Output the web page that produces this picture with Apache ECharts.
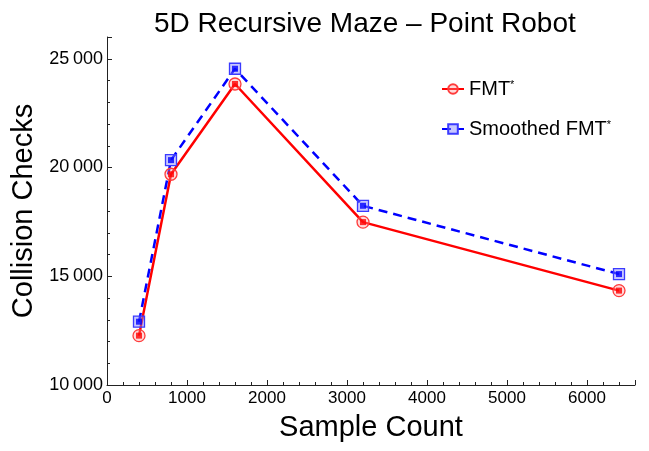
<!DOCTYPE html>
<html><head><meta charset="utf-8">
<script src="https://cdn.jsdelivr.net/npm/echarts@6/dist/echarts.min.js"></script>
<style>html,body{margin:0;padding:0;background:#fff}#c{width:649px;height:451px}</style>
</head><body><div id="c"></div>
<script>
const sampleCounts = [400, 800, 1600, 3200, 6400];
const fmtChecks = [12270, 19690, 23840, 17490, 14340];
const smoothedChecks = [12910, 20340, 24540, 18240, 15100];
const seriesNames = ['FMT*', 'Smoothed FMT*'];

const FONT = '"Liberation Sans", Arial, sans-serif';
const pairs = (xs, ys) => xs.map((x, i) => [x, ys[i]]);
const chart = echarts.init(document.getElementById('c'));
chart.setOption({
  animation: false,
  backgroundColor: '#fff',
  textStyle: { fontFamily: FONT },
  title: {
    text: '5D Recursive Maze \u2013 Point Robot',
    left: 149, top: 5,
    textStyle: { fontFamily: FONT, fontSize: 28, fontWeight: 'normal', color: '#000' }
  },
  legend: {
    data: seriesNames,
    orient: 'vertical',
    left: 436, top: 74,
    itemWidth: 22, itemHeight: 12, itemGap: 20,
    textStyle: { fontFamily: FONT, fontSize: 20, color: '#000',
      rich: { s: { fontSize: 11, padding: [0, 0, 9, 0], fontFamily: FONT, color: '#000' } } },
    formatter: n => n.replace('*', '{s|*}')
  },
  grid: { left: 107, right: 14, top: 37, bottom: 66, outerBoundsMode: 'none', containLabel: false },
  xAxis: {
    type: 'value', min: 0, max: 6600, interval: 1000,
    name: 'Sample Count', nameLocation: 'middle', nameGap: 28,
    nameTextStyle: { fontFamily: FONT, fontSize: 29, color: '#000' },
    axisLine: { lineStyle: { color: '#222', width: 1 } },
    axisTick: { inside: true, length: 5, lineStyle: { color: '#222' } },
    minorTick: { show: true, splitNumber: 5, length: 3, lineStyle: { color: '#222' } },
    splitLine: { show: false },
    axisLabel: { fontFamily: FONT, fontSize: 17, color: '#000', margin: 5,
      formatter: v => (v % 1000 === 0 ? String(v) : '') }
  },
  yAxis: {
    type: 'value', min: 10000, max: 26000, interval: 5000,
    name: 'Collision Checks', nameLocation: 'middle', nameGap: 61,
    nameTextStyle: { fontFamily: FONT, fontSize: 29, color: '#000' },
    axisLine: { show: true, lineStyle: { color: '#222', width: 1 } },
    axisTick: { show: true, inside: true, length: 5, lineStyle: { color: '#222' } },
    minorTick: { show: true, splitNumber: 5, length: 3, lineStyle: { color: '#222' } },
    splitLine: { show: false },
    axisLabel: { fontFamily: FONT, fontSize: 18, color: '#000', margin: 4,
      formatter: v => (v % 5000 === 0 ? String(v).replace(/(\d+)(\d{3})$/, '$1\u2009$2') : '') }
  },
  series: [
    {
      name: seriesNames[0], type: 'line', data: pairs(sampleCounts, fmtChecks),
      lineStyle: { color: '#ff0000', width: 2.5 },
      symbol: 'circle', symbolSize: 12,
      itemStyle: { color: 'rgba(255,150,150,0.35)', borderColor: '#ff3b3b', borderWidth: 1.3 },
      z: 2
    },
    {
      name: seriesNames[1], type: 'line', data: pairs(sampleCounts, smoothedChecks),
      lineStyle: { color: '#0000ff', width: 2.5, type: [9, 6] },
      symbol: 'rect', symbolSize: 11,
      itemStyle: { color: 'rgba(130,130,255,0.45)', borderColor: '#3b3bff', borderWidth: 1.3 },
      z: 2
    },
    {
      name: 'fmtInner', type: 'scatter', data: pairs(sampleCounts, fmtChecks),
      symbol: 'rect', symbolSize: 6, itemStyle: { color: '#ff0000' }, z: 3, silent: true
    },
    {
      name: 'smoothInner', type: 'scatter', data: pairs(sampleCounts, smoothedChecks),
      symbol: 'rect', symbolSize: 6, itemStyle: { color: '#0000ff' }, z: 3, silent: true
    }
  ]
});
</script></body></html>
